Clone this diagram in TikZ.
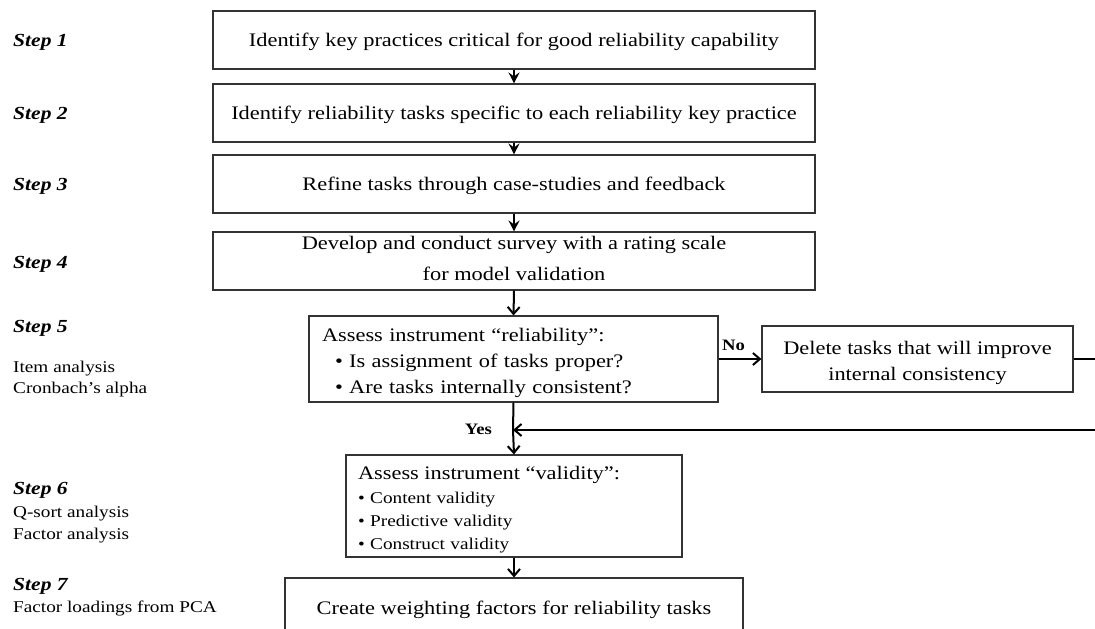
\documentclass[tikz,border=0pt]{standalone}
\usepackage{fontspec}
\setmainfont[FakeStretch=1.17]{Liberation Serif}
\usetikzlibrary{arrows.meta}

\newcommand\smallitem{\textbullet\ }
\newcommand\topstrut{\rule{0pt}{21bp}}

\tikzset{
  box/.style={draw=black!80, line width=1.1bp, inner sep=0pt,
    font=\fontsize{19.2}{26}\selectfont, align=center},
  onebox/.style={box, text height=36bp, text depth=22bp},
  listbox/.style={box, align=left},
  steplabel/.style={anchor=base west, inner sep=0pt,
    font=\fontsize{18.5}{22}\selectfont\bfseries\itshape},
  stepnote/.style={anchor=base west, inner sep=0pt,
    font=\fontsize{16.5}{20}\selectfont},
  flow/.style={line width=2bp, -{Stealth[length=11bp,width=11bp,inset=4bp]}},
  flowlong/.style={line width=2bp, -{Straight Barb[length=7bp,width=12bp,line width=2bp]}},
  answer/.style={font=\fontsize{16}{18}\selectfont\bfseries, inner sep=0pt}
}

\begin{document}
\begin{tikzpicture}[x=1bp,y=-1bp]
\useasboundingbox (0,0) rectangle (1095,629);

% step labels on the left
\node[steplabel] (l1) at (13,47) {Step 1};
\node[steplabel] (l2) at (13,120) {Step 2};
\node[steplabel] (l3) at (13,191) {Step 3};
\node[steplabel] (l4) at (13,269) {Step 4};
\node[steplabel] (l5) at (13,332) {Step 5};
\node[stepnote] (l5a) at (13,372) {Item analysis};
\node[stepnote] (l5b) at (13,393) {Cronbach’s alpha};
\node[steplabel] (l6) at (13,494) {Step 6};
\node[stepnote] (l6a) at (13,517) {Q-sort analysis};
\node[stepnote] (l6b) at (13,539) {Factor analysis};
\node[steplabel] (l7) at (13,590) {Step 7};
\node[stepnote] (l7a) at (13,612) {Factor loadings from PCA};

% process boxes
\node[onebox, minimum width=602bp] (s1) at (514,40)
  {Identify key practices critical for good reliability capability};
\node[onebox, minimum width=602bp] (s2) at (514,113)
  {Identify reliability tasks specific to each reliability key practice};
\node[onebox, minimum width=602bp] (s3) at (514,184)
  {Refine tasks through case-studies and feedback};
\node[box, minimum width=602bp, minimum height=58bp,
  font=\fontsize{19.2}{31}\selectfont] (s4) at (514,261)
  {Develop and conduct survey with a rating scale\\for model validation\rule[-6bp]{0pt}{0pt}};
\node[listbox, text width=383bp, inner xsep=13bp, minimum height=86bp] (s5) at (513.5,359)
  {\topstrut Assess instrument “reliability”:\\
   \hspace*{13bp}\textbullet\ Is assignment of tasks proper?\\
   \hspace*{13bp}\textbullet\ Are tasks internally consistent?};
\node[box, minimum width=311bp, minimum height=66bp] (del) at (917.5,359)
  {\topstrut Delete tasks that will improve\\internal consistency};
\node[listbox, text width=312bp, inner xsep=12bp, minimum height=102bp,
  font=\fontsize{16.5}{23.5}\selectfont] (s6) at (514,506)
  {\topstrut{\fontsize{19.2}{24}\selectfont Assess instrument “validity”:}\\
   \smallitem Content validity\\
   \smallitem Predictive validity\\
   \smallitem Construct validity};
\node[onebox, minimum width=458bp] (s7) at (514,607)
  {Create weighting factors for reliability tasks};

% connectors
\coordinate (fb) at (513,430);
\draw[flow] (s1.south) -- (s2.north);
\draw[flow] (s2.south) -- (s3.north);
\draw[flow] (s3.south) -- (s4.north);
\draw[flowlong] (s4.south) -- (s5.north);
\draw[flowlong] (s5.east) -- (del.west)
  node[answer, pos=0.35, above=7bp] (no) {No};
\draw[line width=2bp] (s5.south) -- (fb);
\node[answer, anchor=east] (yes) at (492,429) {Yes};
\draw[flowlong] (fb) -- (s6.north);
\draw[flowlong] (del.east) -- ++(40,0) |- (fb);
\draw[flowlong] (s6.south) -- (s7.north);
\end{tikzpicture}
\end{document}
